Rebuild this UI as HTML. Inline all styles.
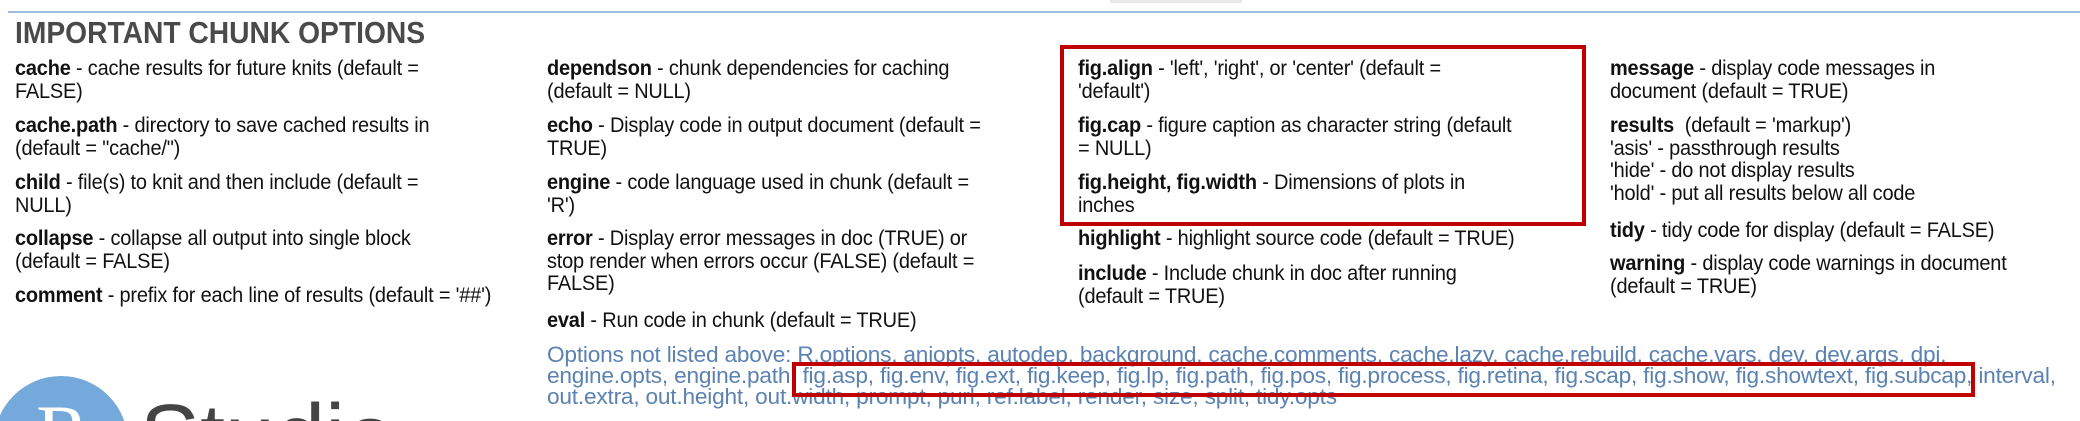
<!DOCTYPE html>
<html style="width:2080px;height:421px;overflow:hidden"><head><meta charset="utf-8"><style>
body{margin:0;width:2080px;height:421px;overflow:hidden;background:#fff;position:relative;font-family:"Liberation Sans",sans-serif;}
.t{position:absolute;font-size:21px;line-height:22.5px;color:#111;white-space:nowrap;transform-origin:0 0;transform:scaleX(0.95);letter-spacing:-0.2px}
.t b{font-weight:bold}
.o{color:#5b82b0;line-height:21px;font-size:22px;transform:scaleX(1.03)}
.box{position:absolute;border:4px solid #c00000;box-sizing:border-box}
</style></head><body>
<div style="position:absolute;left:8px;top:11px;width:2072px;height:2px;background:#9dbfe0"></div>
<div style="position:absolute;left:1110px;top:0;width:132px;height:3px;background:#e8e8e8"></div>
<div style="position:absolute;left:15px;top:15px;font-size:31px;font-weight:bold;color:#4a4a4a;white-space:nowrap;transform-origin:0 0;transform:scaleX(0.91)">IMPORTANT CHUNK OPTIONS</div>

<div class="t" style="left:15px;top:58px"><b>cache</b> - cache results for future knits (default =<br>FALSE)</div>
<div class="t" style="left:15px;top:115px"><b>cache.path</b> - directory to save cached results in<br>(default = "cache/")</div>
<div class="t" style="left:15px;top:172px"><b>child</b> - file(s) to knit and then include (default =<br>NULL)</div>
<div class="t" style="left:15px;top:228px"><b>collapse</b> - collapse all output into single block<br>(default = FALSE)</div>
<div class="t" style="left:15px;top:285px"><b>comment</b> - prefix for each line of results (default = '##')</div>

<div class="t" style="left:547px;top:58px"><b>dependson</b> - chunk dependencies for caching<br>(default = NULL)</div>
<div class="t" style="left:547px;top:115px"><b>echo</b> - Display code in output document (default =<br>TRUE)</div>
<div class="t" style="left:547px;top:172px"><b>engine</b> - code language used in chunk (default =<br>'R')</div>
<div class="t" style="left:547px;top:228px"><b>error</b> - Display error messages in doc (TRUE) or<br>stop render when errors occur (FALSE) (default =<br>FALSE)</div>
<div class="t" style="left:547px;top:310px"><b>eval</b> - Run code in chunk (default = TRUE)</div>

<div class="t" style="left:1078px;top:58px"><b>fig.align</b> - 'left', 'right', or 'center' (default =<br>'default')</div>
<div class="t" style="left:1078px;top:115px"><b>fig.cap</b> - figure caption as character string (default<br>= NULL)</div>
<div class="t" style="left:1078px;top:172px"><b>fig.height, fig.width</b> - Dimensions of plots in<br>inches</div>
<div class="t" style="left:1078px;top:228px"><b>highlight</b> - highlight source code (default = TRUE)</div>
<div class="t" style="left:1078px;top:263px"><b>include</b> - Include chunk in doc after running<br>(default = TRUE)</div>

<div class="t" style="left:1610px;top:58px"><b>message</b> - display code messages in<br>document (default = TRUE)</div>
<div class="t" style="left:1610px;top:115px"><b>results</b> &nbsp;(default = 'markup')<br>'asis' - passthrough results<br>'hide' - do not display results<br>'hold' - put all results below all code</div>
<div class="t" style="left:1610px;top:220px"><b>tidy</b> - tidy code for display (default = FALSE)</div>
<div class="t" style="left:1610px;top:253px"><b>warning</b> - display code warnings in document<br>(default = TRUE)</div>

<div class="t o" style="left:547px;top:344px">Options not listed above: R.options, aniopts, autodep, background, cache.comments, cache.lazy, cache.rebuild, cache.vars, dev, dev.args, dpi,<br>engine.opts, engine.path, fig.asp, fig.env, fig.ext, fig.keep, fig.lp, fig.path, fig.pos, fig.process, fig.retina, fig.scap, fig.show, fig.showtext, fig.subcap, interval,<br>out.extra, out.height, out.width, prompt, purl, ref.label, render, size, split, tidy.opts</div>

<div class="box" style="left:1060px;top:45px;width:526px;height:181px"></div>
<div class="box" style="left:792px;top:362px;width:1183px;height:35px"></div>

<div style="position:absolute;left:-6px;top:376px;width:134px;height:134px;border-radius:50%;background:#75a9db"></div>
<div style="position:absolute;left:36px;top:394px;font-family:'Liberation Serif',serif;font-size:80px;line-height:80px;color:#fff">R</div>
<div style="position:absolute;left:140px;top:392px;font-size:90px;line-height:90px;color:#444">Studio</div>
</body></html>
